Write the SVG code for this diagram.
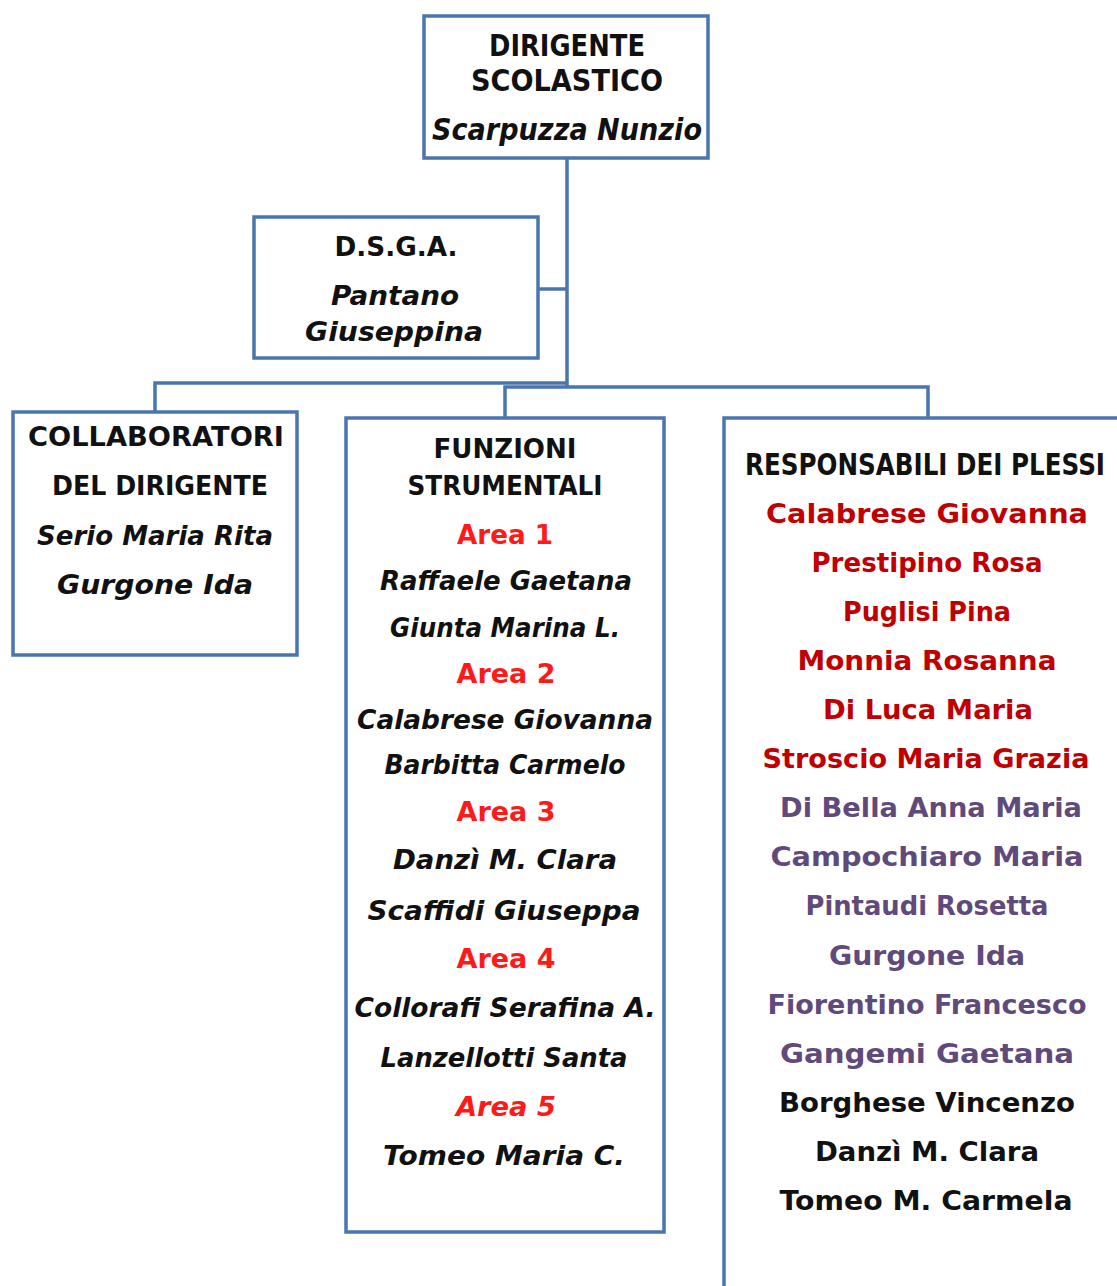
<svg xmlns="http://www.w3.org/2000/svg" width="1117" height="1286" viewBox="0 0 1117 1286">
<style>
.box{fill:#fff;stroke:#4a75ad;stroke-width:3.5}
.ln{fill:none;stroke:#4a75ad;stroke-width:3.5}
text{font-family:"DejaVu Sans","Liberation Sans",sans-serif;font-weight:bold;text-anchor:middle;font-size:27px}
.h{font-size:30px}
.i{font-style:italic}
.k{fill:#111}
.r{fill:#ff1a1a}
.dr{fill:#c00000}
.p{fill:#604a7b}
</style>
<rect width="1117" height="1286" fill="#fff"/>
<g id="connectors">
<path class="ln" d="M567,158 V386"/>
<path class="ln" d="M538,289 H567"/>
<path class="ln" d="M155,412 V383 H567"/>
<path class="ln" d="M505,418 V387 H928 V418"/>
</g>
<g id="dirigente">
<rect class="box" x="424" y="16" width="284" height="142"/>
<text class="k h" x="567" y="56" textLength="156" lengthAdjust="spacingAndGlyphs">DIRIGENTE</text>
<text class="k h" x="567" y="91" textLength="192" lengthAdjust="spacingAndGlyphs">SCOLASTICO</text>
<text class="k h i" x="567" y="140" textLength="270" lengthAdjust="spacingAndGlyphs">Scarpuzza Nunzio</text>
</g>
<g id="dsga">
<rect class="box" x="254" y="217" width="284" height="141"/>
<text class="k" x="396" y="256" textLength="123" lengthAdjust="spacingAndGlyphs">D.S.G.A.</text>
<text class="k i" x="395" y="305" textLength="128" lengthAdjust="spacingAndGlyphs">Pantano</text>
<text class="k i" x="394" y="341" textLength="178" lengthAdjust="spacingAndGlyphs">Giuseppina</text>
</g>
<g id="collaboratori">
<rect class="box" x="13" y="412" width="284" height="243"/>
<text class="k" x="156" y="446" textLength="256" lengthAdjust="spacingAndGlyphs">COLLABORATORI</text>
<text class="k" x="160" y="495" textLength="216" lengthAdjust="spacingAndGlyphs">DEL DIRIGENTE</text>
<text class="k i" x="155" y="545" textLength="236" lengthAdjust="spacingAndGlyphs">Serio Maria Rita</text>
<text class="k i" x="155" y="594" textLength="196" lengthAdjust="spacingAndGlyphs">Gurgone Ida</text>
</g>
<g id="funzioni">
<rect class="box" x="346" y="418" width="318" height="814"/>
<text class="k" x="505" y="458" textLength="143" lengthAdjust="spacingAndGlyphs">FUNZIONI</text>
<text class="k" x="505" y="495" textLength="195" lengthAdjust="spacingAndGlyphs">STRUMENTALI</text>
<text class="r" x="505" y="544" textLength="96" lengthAdjust="spacingAndGlyphs">Area 1</text>
<text class="k i" x="506" y="590" textLength="252" lengthAdjust="spacingAndGlyphs">Raffaele Gaetana</text>
<text class="k i" x="505" y="637" textLength="230" lengthAdjust="spacingAndGlyphs">Giunta Marina L.</text>
<text class="r" x="506" y="683" textLength="99" lengthAdjust="spacingAndGlyphs">Area 2</text>
<text class="k i" x="505" y="729" textLength="296" lengthAdjust="spacingAndGlyphs">Calabrese Giovanna</text>
<text class="k i" x="505" y="774" textLength="241" lengthAdjust="spacingAndGlyphs">Barbitta Carmelo</text>
<text class="r" x="506" y="821" textLength="99" lengthAdjust="spacingAndGlyphs">Area 3</text>
<text class="k i" x="505" y="869" textLength="224" lengthAdjust="spacingAndGlyphs">Danzì M. Clara</text>
<text class="k i" x="504" y="920" textLength="273" lengthAdjust="spacingAndGlyphs">Scaffidi Giuseppa</text>
<text class="r" x="506" y="968" textLength="99" lengthAdjust="spacingAndGlyphs">Area 4</text>
<text class="k i" x="505" y="1017" textLength="301" lengthAdjust="spacingAndGlyphs">Collorafi Serafina A.</text>
<text class="k i" x="504" y="1067" textLength="247" lengthAdjust="spacingAndGlyphs">Lanzellotti Santa</text>
<text class="r i" x="506" y="1116" textLength="100" lengthAdjust="spacingAndGlyphs">Area 5</text>
<text class="k i" x="504" y="1165" textLength="242" lengthAdjust="spacingAndGlyphs">Tomeo Maria C.</text>
</g>
<g id="responsabili">
<rect class="box" x="724" y="418" width="440" height="920"/>
<text class="k h" x="925" y="475" textLength="360" lengthAdjust="spacingAndGlyphs">RESPONSABILI DEI PLESSI</text>
<text class="dr" x="927" y="523" textLength="322" lengthAdjust="spacingAndGlyphs">Calabrese Giovanna</text>
<text class="dr" x="927" y="572" textLength="231" lengthAdjust="spacingAndGlyphs">Prestipino Rosa</text>
<text class="dr" x="927" y="621" textLength="168" lengthAdjust="spacingAndGlyphs">Puglisi Pina</text>
<text class="dr" x="927" y="670" textLength="259" lengthAdjust="spacingAndGlyphs">Monnia Rosanna</text>
<text class="dr" x="928" y="719" textLength="210" lengthAdjust="spacingAndGlyphs">Di Luca Maria</text>
<text class="dr" x="926" y="768" textLength="327" lengthAdjust="spacingAndGlyphs">Stroscio Maria Grazia</text>
<text class="p" x="931" y="817" textLength="302" lengthAdjust="spacingAndGlyphs">Di Bella Anna Maria</text>
<text class="p" x="927" y="866" textLength="313" lengthAdjust="spacingAndGlyphs">Campochiaro Maria</text>
<text class="p" x="927" y="915" textLength="243" lengthAdjust="spacingAndGlyphs">Pintaudi Rosetta</text>
<text class="p" x="927" y="965" textLength="196" lengthAdjust="spacingAndGlyphs">Gurgone Ida</text>
<text class="p" x="927" y="1014" textLength="319" lengthAdjust="spacingAndGlyphs">Fiorentino Francesco</text>
<text class="p" x="927" y="1063" textLength="294" lengthAdjust="spacingAndGlyphs">Gangemi Gaetana</text>
<text class="k" x="927" y="1112" textLength="296" lengthAdjust="spacingAndGlyphs">Borghese Vincenzo</text>
<text class="k" x="927" y="1161" textLength="224" lengthAdjust="spacingAndGlyphs">Danzì M. Clara</text>
<text class="k" x="926" y="1210" textLength="293" lengthAdjust="spacingAndGlyphs">Tomeo M. Carmela</text>
</g>
</svg>
